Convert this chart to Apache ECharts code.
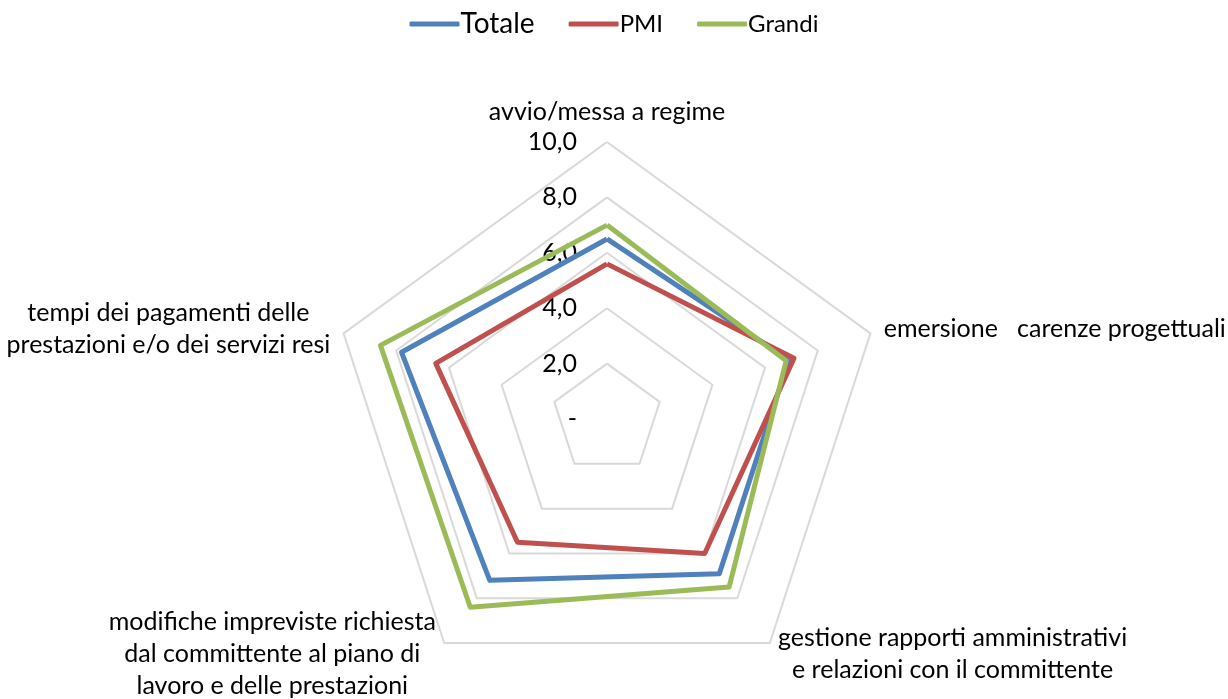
<!DOCTYPE html>
<html>
<head>
<meta charset="utf-8">
<script src="https://cdn.jsdelivr.net/npm/echarts@6/dist/echarts.min.js"></script>
<style>
html,body{margin:0;padding:0;background:#fff;}
#chart{width:1228px;height:699px;}
</style>
</head>
<body>
<div id="chart"></div>
<script>
// Categories in the reference's clockwise order, starting from the top
var categories = [
  'avvio/messa a regime',
  'emersione   carenze progettuali',
  'gestione rapporti amministrativi\ne relazioni con il committente',
  'modifiche impreviste richiesta\ndal committente al piano di\nlavoro e delle prestazioni',
  'tempi dei pagamenti delle\nprestazioni e/o dei servizi resi'
];
var seriesNames = ['Totale', 'PMI', 'Grandi'];
var totale = [6.5, 6.9, 6.9, 7.2, 7.8];
var pmi    = [5.6, 7.1, 6.0, 5.5, 6.5];
var grandi = [7.0, 6.8, 7.5, 8.4, 8.6];
var tickLabels = ['-', '2,0', '4,0', '6,0', '8,0', '10,0'];
var axisMax = 10;

// ECharts radar goes counter-clockwise; reorder to draw clockwise like the reference
var order = [0, 4, 3, 2, 1];
function reorder(arr) { return order.map(function (i) { return arr[i]; }); }

var FONT = 'Lato';
var NAME_SIZE = 25;
var indicators = reorder(categories).map(function (name, k) {
  var ind = { name: name, min: 0, max: axisMax };
  if (k === 0) {
    ind.axisLabel = {
      show: true,
      margin: 30,
      fontFamily: FONT,
      fontSize: 25,
      color: '#000',
      formatter: function (v) { return tickLabels[Math.round(v / 2)]; }
    };
  }
  return ind;
});

var colors = ['#4F81BD', '#C0504D', '#9BBB59'];
var chart = echarts.init(document.getElementById('chart'));
chart.setOption({
  animation: false,
  backgroundColor: '#fff',
  color: colors,
  legend: {
    top: 5,
    left: 'center',
    itemWidth: 50,
    itemHeight: 5,
    itemGap: 34,
    icon: 'roundRect',
    textStyle: { fontFamily: FONT, fontSize: 24, color: '#000', padding: [0, 0, 0, -4] },
    data: [
      { name: seriesNames[0], textStyle: { fontSize: 28 } },
      { name: seriesNames[1] },
      { name: seriesNames[2] }
    ]
  },
  radar: {
    center: [607, 419],
    radius: 277,
    startAngle: 90,
    splitNumber: 5,
    shape: 'polygon',
    indicator: indicators,
    axisName: {
      color: '#000',
      fontFamily: FONT,
      fontSize: NAME_SIZE,
      lineHeight: 32,
      formatter: function (name) {
        return name.split('\n').map(function (l) { return '{c|' + l + '}'; }).join('\n');
      },
      rich: {
        c: { align: 'center', fontFamily: FONT, fontSize: NAME_SIZE, lineHeight: 32, color: '#000' }
      }
    },
    nameGap: 14,
    axisLine: { show: false },
    axisTick: { show: false },
    axisLabel: { show: false },
    splitArea: { show: false },
    splitLine: { lineStyle: { color: '#D9D9D9', width: 2 } }
  },
  series: [{
    type: 'radar',
    symbol: 'none',
    lineStyle: { width: 5 },
    data: [
      { name: seriesNames[0], value: reorder(totale), lineStyle: { color: colors[0], width: 5 }, itemStyle: { color: colors[0] } },
      { name: seriesNames[1], value: reorder(pmi), lineStyle: { color: colors[1], width: 5 }, itemStyle: { color: colors[1] } },
      { name: seriesNames[2], value: reorder(grandi), lineStyle: { color: colors[2], width: 5 }, itemStyle: { color: colors[2] } }
    ]
  }]
});
</script>
</body>
</html>
